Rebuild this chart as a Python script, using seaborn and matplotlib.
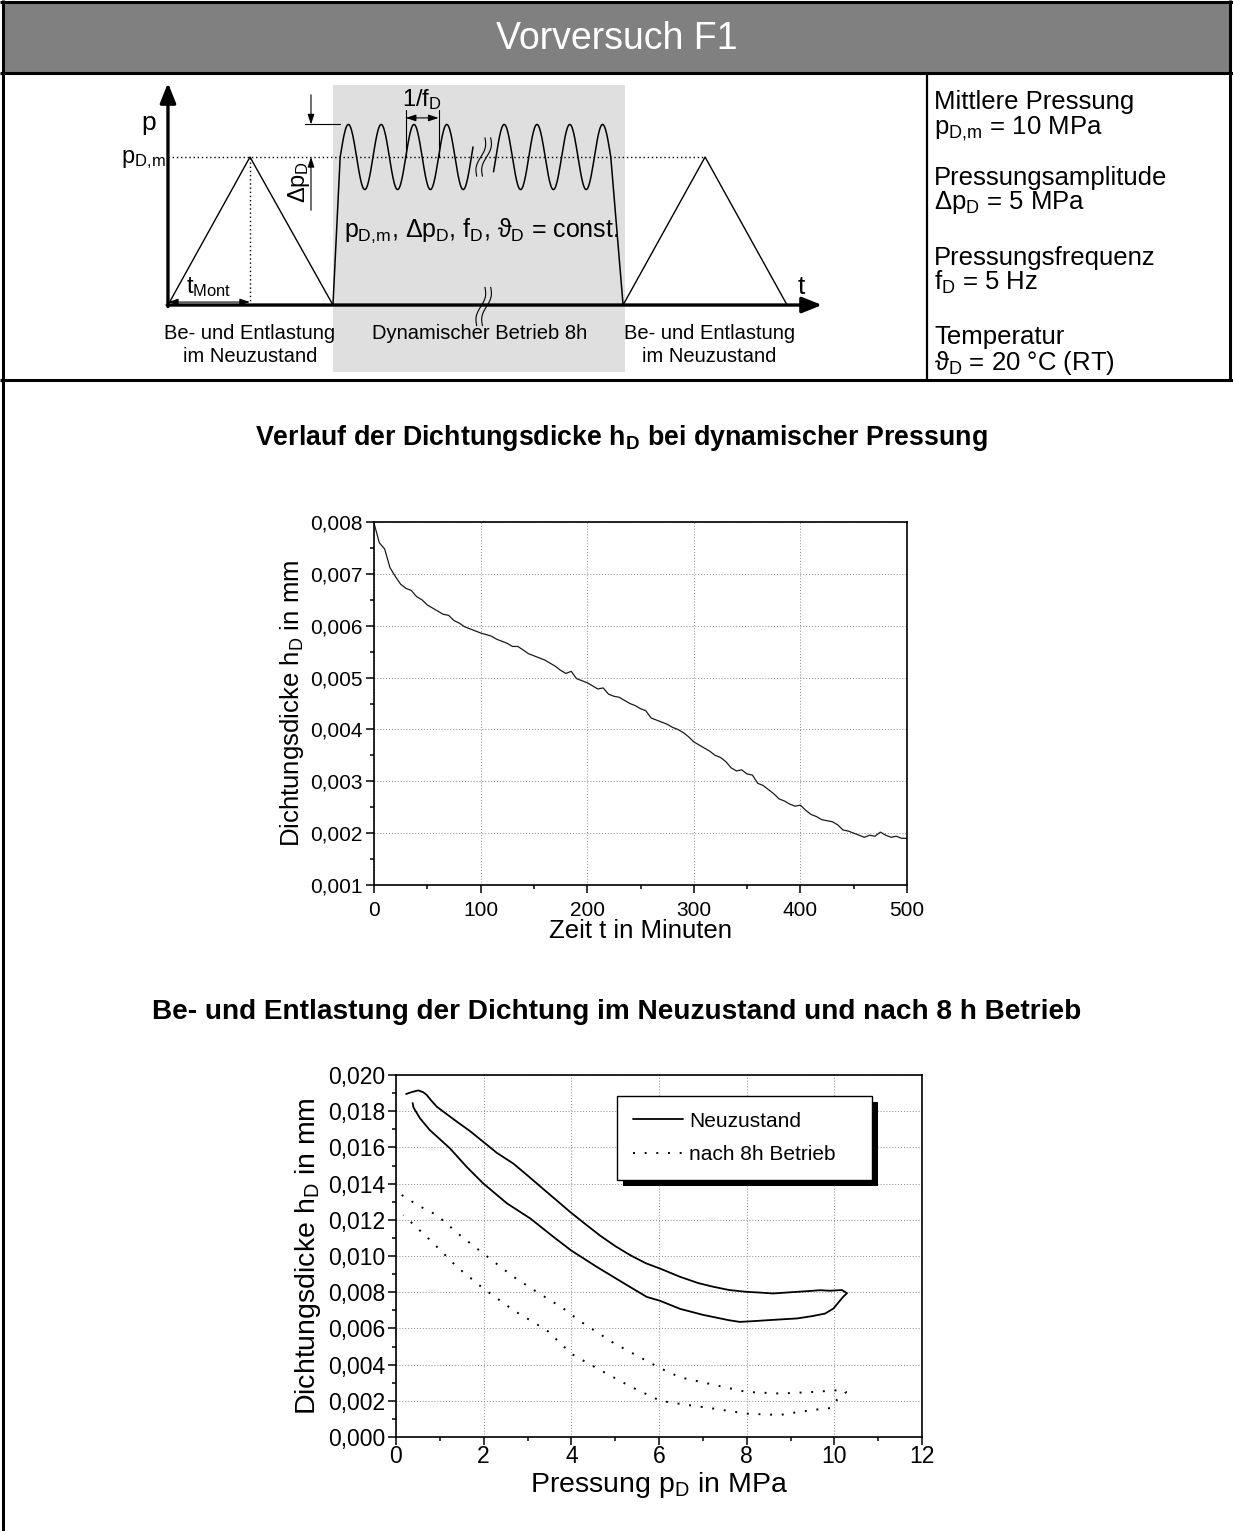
import numpy as np
import pandas as pd
import matplotlib
matplotlib.use("Agg")
import matplotlib.pyplot as plt
import seaborn as sns
from matplotlib.patches import Rectangle
from matplotlib.transforms import IdentityTransform
from matplotlib.ticker import MultipleLocator, FuncFormatter

# ---------------------------------------------------------------- data
# gasket thickness h_D (mm) over time (min) under dynamic pressure
t_min = [0, 5, 10, 15, 20, 25, 30, 35, 40, 45, 50, 55, 60, 65, 70, 75, 80, 85, 90, 95,
         100, 105, 110, 115, 120, 125, 130, 135, 140, 145, 150, 155, 160, 165, 170, 175,
         180, 185, 190, 195, 200, 205, 210, 215, 220, 225, 230, 235, 240, 245, 250, 255,
         260, 265, 270, 275, 280, 285, 290, 295, 300, 305, 310, 315, 320, 325, 330, 335,
         340, 345, 350, 355, 360, 365, 370, 375, 380, 385, 390, 395, 400, 405, 410, 415,
         420, 425, 430, 435, 440, 445, 450, 455, 460, 465, 470, 475, 480, 485, 490, 495, 500]
h_dyn = [0.00798, 0.00760, 0.00748, 0.00712, 0.00695, 0.00680, 0.00672, 0.00668, 0.00656,
         0.00650, 0.00640, 0.00634, 0.00628, 0.00622, 0.00620, 0.00610, 0.00605, 0.00598,
         0.00594, 0.00590, 0.00586, 0.00583, 0.00580, 0.00574, 0.00570, 0.00566, 0.00560,
         0.00560, 0.00553, 0.00546, 0.00542, 0.00538, 0.00534, 0.00528, 0.00522, 0.00514,
         0.00508, 0.00512, 0.00498, 0.00494, 0.00490, 0.00484, 0.00478, 0.00480, 0.00468,
         0.00464, 0.00462, 0.00456, 0.00450, 0.00446, 0.00440, 0.00436, 0.00422, 0.00418,
         0.00414, 0.00410, 0.00404, 0.00400, 0.00394, 0.00386, 0.00376, 0.00370, 0.00364,
         0.00358, 0.00350, 0.00346, 0.00338, 0.00326, 0.00320, 0.00322, 0.00314, 0.00312,
         0.00296, 0.00292, 0.00284, 0.00276, 0.00266, 0.00262, 0.00256, 0.00252, 0.00254,
         0.00244, 0.00236, 0.00232, 0.00226, 0.00224, 0.00222, 0.00216, 0.00206, 0.00204,
         0.00200, 0.00196, 0.00192, 0.00196, 0.00194, 0.00202, 0.00196, 0.00192, 0.00194,
         0.00190, 0.00190]

# loading / unloading loop, new gasket (pressure MPa, thickness mm)
p_neu = [0.23, 0.35, 0.51, 0.62, 0.70, 0.80, 0.93, 1.15, 1.39, 1.70, 1.99, 2.30, 2.68, 3.00,
         3.36, 3.70, 3.97, 4.30, 4.66, 5.00, 5.34, 5.70, 6.03, 6.48, 6.90, 7.24, 7.60, 8.00,
         8.30, 8.60, 8.90, 9.15, 9.40, 9.68, 9.90, 10.17, 10.29,
         10.20, 10.10, 9.98, 9.79, 9.50, 9.15, 8.80, 8.46, 8.15, 7.84, 7.60, 7.40, 7.00,
         6.48, 6.03, 5.72, 5.27, 4.58, 4.00, 3.59, 3.06, 2.53, 1.99, 1.61, 1.23, 0.77,
         0.55, 0.40, 0.38]
h_neu = [0.01895, 0.01905, 0.01915, 0.01905, 0.01890, 0.01860, 0.01825, 0.01785, 0.01742,
         0.01688, 0.01631, 0.01570, 0.01510, 0.01445, 0.01370, 0.01300, 0.01244, 0.01180,
         0.01112, 0.01055, 0.01005, 0.00960, 0.00930, 0.00885, 0.00850, 0.00830, 0.00812,
         0.00802, 0.00798, 0.00793, 0.00798, 0.00802, 0.00806, 0.00811, 0.00808, 0.00812,
         0.00795,
         0.00774, 0.00745, 0.00710, 0.00682, 0.00668, 0.00655, 0.00650, 0.00645, 0.00640,
         0.00636, 0.00645, 0.00655, 0.00675, 0.00708, 0.00752, 0.00774, 0.00839, 0.00940,
         0.01030, 0.01106, 0.01208, 0.01291, 0.01401, 0.01493, 0.01595, 0.01696, 0.01760,
         0.01820, 0.01845]

# loading / unloading loop after 8 h of operation
p_8h = [0.13, 0.50, 0.93, 1.46, 1.99, 2.68, 3.21, 3.82, 4.20, 4.58, 4.96, 5.34, 6.03, 6.48,
        6.94, 7.50, 8.00, 8.77, 9.53, 10.05, 10.27,
        10.20, 10.05, 9.91, 9.53, 9.10, 8.77, 8.40, 8.00, 7.24, 6.48, 6.03, 5.34, 4.58,
        4.00, 3.44, 2.68, 1.99, 1.39, 0.78, 0.17]
h_8h = [0.01337, 0.01280, 0.01226, 0.01115, 0.01014, 0.00885, 0.00802, 0.00710, 0.00640,
        0.00580, 0.00520, 0.00470, 0.00380, 0.00330, 0.00305, 0.00275, 0.00249, 0.00240,
        0.00249, 0.00258, 0.00249,
        0.00230, 0.00203, 0.00160, 0.00150, 0.00135, 0.00122, 0.00125, 0.00129, 0.00157,
        0.00183, 0.00200, 0.00280, 0.00380, 0.00460, 0.00590, 0.00700, 0.00821, 0.00940,
        0.01088, 0.01226]

legend_labels = ["Neuzustand", "nach 8h Betrieb"]

# ---------------------------------------------------------------- style
sns.set_theme(style="white")
plt.rcParams['font.family'] = ['Liberation Sans', 'DejaVu Sans']
plt.rcParams['mathtext.fontset'] = 'custom'
plt.rcParams['mathtext.rm'] = 'Liberation Sans'
plt.rcParams['mathtext.it'] = 'Liberation Sans'
plt.rcParams['mathtext.bf'] = 'Liberation Sans:bold'
plt.rcParams['text.color'] = 'black'
plt.rcParams['axes.labelcolor'] = 'black'
plt.rcParams['xtick.color'] = 'black'
plt.rcParams['ytick.color'] = 'black'

W, H = 1233, 1531
fig = plt.figure(figsize=(W / 100, H / 100), dpi=100)


def px_axes(x0, y0, x1, y1, **kw):
    return fig.add_axes([x0 / W, 1 - y1 / H, (x1 - x0) / W, (y1 - y0) / H], **kw)


# ---------------------------------------------------------------- page frame
bg = fig.add_axes([0, 0, 1, 1], zorder=-5)
bg.set_xlim(0, W)
bg.set_ylim(H, 0)
bg.axis('off')

bg.add_patch(Rectangle((3, 2), W - 6, 71, facecolor='#808080', edgecolor='none'))
bg.text(617, 39, "Vorversuch F1", color='white', fontsize=27, ha='center', va='center')

frame_kw = dict(color='black', lw=2.2, solid_capstyle='butt')
bg.plot([3, 3], [0, H], **frame_kw)
bg.plot([W - 3, W - 3], [0, 380], **frame_kw)
bg.plot([0, W], [2, 2], **frame_kw)
bg.plot([0, W], [73, 73], **frame_kw)
bg.plot([0, W], [380, 380], **frame_kw)
bg.plot([927, 927], [73, 380], color='black', lw=1.6)

# test parameters
param_lines = [
    (109, "Mittlere Pressung"),
    (134, r"$p_{D,\!m}$ = 10 MPa"),
    (185, "Pressungsamplitude"),
    (209, r"$\Delta p_D$ = 5 MPa"),
    (265, "Pressungsfrequenz"),
    (290, r"$f_D$ = 5 Hz"),
    (344, "Temperatur"),
    (370, r"$\vartheta_D$ = 20 °C (RT)"),
]
for y, s in param_lines:
    bg.text(934, y, s, fontsize=18.5, ha='left', va='baseline')

bg.text(621, 438, r"Verlauf der Dichtungsdicke $\mathbf{h_D}$ bei dynamischer Pressung",
        fontsize=19.3, fontweight='bold', ha='center', va='center')
bg.text(617, 1012, "Be- und Entlastung der Dichtung im Neuzustand und nach 8 h Betrieb",
        fontsize=20.2, fontweight='bold', ha='center', va='center')

# ---------------------------------------------------------------- load schematic
sc = px_axes(100, 75, 900, 378)
sc.set_xlim(-0.829, 8.927)
sc.set_ylim(-0.493, 1.554)
sc.axis('off')
sc.patch.set_alpha(0)

P_MEAN, AMP, PERIOD = 1.0, 0.22, 0.4
sc.add_patch(Rectangle((2.012, -0.453), 3.561, 1.939, facecolor='#dfdfdf', edgecolor='none', zorder=0))

ax_arrow = dict(arrowstyle='-|>,head_length=0.75,head_width=0.3', lw=2.4, color='black',
                mutation_scale=16, shrinkA=0, shrinkB=0)
sc.annotate('', xy=(0, 1.50), xytext=(0, -0.01), arrowprops=ax_arrow, zorder=5)
sc.annotate('', xy=(7.976, 0), xytext=(-0.01, 0), arrowprops=ax_arrow, zorder=5)

line_kw = dict(color='black', lw=1.0)
sc.plot([0, 1, 2.012], [0, P_MEAN, 0], **line_kw)
sc.plot([5.55, 6.55, 7.55], [0, P_MEAN, 0], **line_kw)
sc.plot([0, 6.55], [P_MEAN, P_MEAN], color='black', lw=1.0, ls=(0, (1, 2)))
sc.plot([1, 1], [0, P_MEAN], color='black', lw=1.0, ls=(0, (1, 2)))

u1 = np.linspace(2.1, 3.72, 200)
v1 = P_MEAN + AMP * np.sin(2 * np.pi * (u1 - 2.1) / PERIOD)
sc.plot(np.r_[2.012, u1], np.r_[0, v1], color='black', lw=1.1)
u2 = np.linspace(3.97, 5.4, 200)
v2 = P_MEAN + AMP * np.sin(2 * np.pi * (u2 - 4.0) / PERIOD)
sc.plot(np.r_[u2, 5.55], np.r_[v2, 0], color='black', lw=1.1)

# break marks
s = np.linspace(-1, 1, 40)
for uc, vc in [(3.85, 1.0), (3.85, -0.01)]:
    for du in (-0.035, 0.035):
        sc.plot(uc + du + 0.05 * s + 0.03 * np.sin(np.pi * s), vc + 0.13 * s,
                color='black', lw=0.8, zorder=6)

dim = dict(arrowstyle='-|>,head_length=0.6,head_width=0.2', lw=0.8, color='black',
           mutation_scale=10, shrinkA=0, shrinkB=0)
dim2 = dict(arrowstyle='<|-|>,head_length=0.6,head_width=0.2', lw=0.8, color='black',
            mutation_scale=10, shrinkA=0, shrinkB=0)
sc.annotate('', xy=(1.744, P_MEAN + AMP), xytext=(1.744, 1.42), arrowprops=dim)
sc.annotate('', xy=(1.744, P_MEAN), xytext=(1.744, 0.64), arrowprops=dim)
sc.plot([1.67, 2.1], [P_MEAN + AMP, P_MEAN + AMP], color='black', lw=0.8)
sc.plot([2.9, 2.9], [P_MEAN, 1.32], color='black', lw=0.8)
sc.plot([3.3, 3.3], [P_MEAN, 1.32], color='black', lw=0.8)
sc.annotate('', xy=(3.3, 1.264), xytext=(2.9, 1.264), arrowprops=dim2)
sc.annotate('', xy=(1.0, 0.02), xytext=(0.0, 0.02), arrowprops=dim2)

sc.text(-0.24, 1.23, "p", fontsize=19, ha='center', va='center')
sc.text(-0.03, 0.98, r"$p_{D,\!m}$", fontsize=17, ha='right', va='center')
sc.text(0.5, 0.12, r"$t_{Mont}$", fontsize=17, ha='center', va='center')
sc.text(7.72, 0.12, "t", fontsize=19, ha='center', va='center')
sc.text(3.1, 1.385, r"$1/f_D$", fontsize=17, ha='center', va='center')
sc.text(1.6, 0.83, r"$\Delta p_D$", fontsize=17, ha='center', va='center', rotation=90)
sc.text(3.82, 0.5, r"$p_{D,\!m}$, $\Delta p_D$, $f_D$, $\vartheta_D$ = const.",
        fontsize=18, ha='center', va='center')
for uc, (l1, l2) in [(1.0, ("Be- und Entlastung", "im Neuzustand")),
                     (3.8, ("Dynamischer Betrieb 8h", None)),
                     (6.6, ("Be- und Entlastung", "im Neuzustand"))]:
    sc.text(uc, -0.19, l1, fontsize=14.5, ha='center', va='center')
    if l2:
        sc.text(uc, -0.35, l2, fontsize=14.5, ha='center', va='center')


# ---------------------------------------------------------------- data charts
def comma(fmt):
    return FuncFormatter(lambda v, _: fmt.format(v).replace('.', ','))


def style_axes(ax, xmaj, xmin, ymaj, ymin, yfmt, tick_fs, xpad):
    ax.xaxis.set_major_locator(MultipleLocator(xmaj))
    ax.xaxis.set_minor_locator(MultipleLocator(xmin))
    ax.yaxis.set_major_locator(MultipleLocator(ymaj))
    ax.yaxis.set_minor_locator(MultipleLocator(ymin))
    ax.xaxis.set_major_formatter(comma("{:.0f}"))
    ax.yaxis.set_major_formatter(comma(yfmt))
    ax.tick_params(which='both', direction='out', bottom=True, left=True, top=False,
                   right=False, color='black', width=1.1)
    ax.tick_params(which='major', length=6, labelsize=tick_fs, pad=2)
    ax.tick_params(axis='x', which='major', pad=xpad)
    ax.tick_params(which='minor', length=3)
    for sp in ax.spines.values():
        sp.set_visible(True)
        sp.set_color('black')
        sp.set_linewidth(1.2)
    ax.grid(True, which='major', color='#8a8a8a', linestyle=(0, (1, 2)), linewidth=0.7)
    ax.set_axisbelow(True)


ax1 = px_axes(374, 522, 907, 885)
df1 = pd.DataFrame({"t": t_min, "h": h_dyn})
sns.lineplot(data=df1, x="t", y="h", ax=ax1, color='#1a1a1a', lw=0.9)
ax1.set_xlim(0, 500)
ax1.set_ylim(0.001, 0.008)
style_axes(ax1, 100, 50, 0.001, 0.0005, "{:.3f}", 15, 5.5)
ax1.set_xlabel("Zeit t in Minuten", fontsize=18.5, labelpad=-1)
ax1.set_ylabel(r"Dichtungsdicke $h_D$ in mm", fontsize=18.5, labelpad=3)

ax2 = px_axes(396, 1075, 922, 1437)
df_neu = pd.DataFrame({"p": p_neu, "h": h_neu})
df_8h = pd.DataFrame({"p": p_8h, "h": h_8h})
sns.lineplot(data=df_neu, x="p", y="h", ax=ax2, sort=False, estimator=None,
             color='black', lw=1.3, label=legend_labels[0])
sns.lineplot(data=df_8h, x="p", y="h", ax=ax2, sort=False, estimator=None,
             color='black', lw=1.4, ls=(0, (1, 5)), label=legend_labels[1])
ax2.set_xlim(0, 12)
ax2.set_ylim(0, 0.020)
style_axes(ax2, 2, 1, 0.002, 0.001, "{:.3f}", 16.5, 0)
ax2.set_xlabel(r"Pressung $p_D$ in MPa", fontsize=20.5, labelpad=1.5)
ax2.set_ylabel(r"Dichtungsdicke $h_D$ in mm", fontsize=20.5, labelpad=3)

leg = ax2.legend(loc='upper left', bbox_to_anchor=(0.42, 0.713, 0.485, 0.229),
                 mode='expand', borderaxespad=0,
                 fontsize=15, frameon=True, fancybox=False, framealpha=1,
                 edgecolor='black', handlelength=2.4, handletextpad=0.3,
                 labelspacing=0.7, borderpad=0.75)
leg.get_frame().set_linewidth(1.0)
for ln in leg.get_lines():
    ln.set_color('black')

fig.canvas.draw()
bb = leg.get_window_extent()
ax2.add_patch(Rectangle((bb.x0 + 6, bb.y0 - 6), bb.width, bb.height,
                        transform=IdentityTransform(), facecolor='black',
                        edgecolor='none', zorder=4.9, clip_on=False))

fig.savefig("out.png", dpi=100)
